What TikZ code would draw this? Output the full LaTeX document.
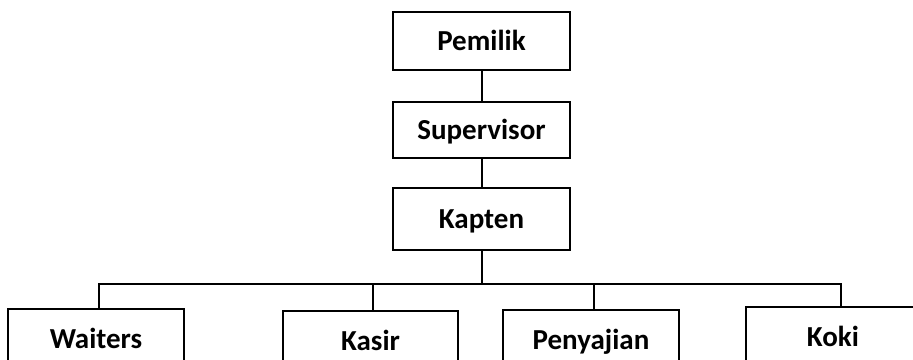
\documentclass[tikz,border=0pt]{standalone}
\usepackage{fontspec}
\setmainfont{Carlito}
\begin{document}
\begin{tikzpicture}[x=1pt,y=-1pt,
  box/.style={draw=black,line width=2pt,fill=white,font=\fontsize{29}{31}\selectfont\bfseries,
    text height=18.5pt,text depth=0pt,inner sep=0pt,anchor=center},
  conn/.style={draw=black,line width=2pt}]
\useasboundingbox (0,0) rectangle (913,359);
\clip (0,0) rectangle (913,359);
\node[box,minimum width=177pt,minimum height=58pt] (pemilik) at (481.5,41) {Pemilik};
\node[box,minimum width=177pt,minimum height=56pt] (supervisor) at (481.5,130) {Supervisor};
\node[box,minimum width=177pt,minimum height=62pt] (kapten) at (481.5,219) {Kapten};
\node[box,minimum width=176pt,minimum height=60pt] (waiters) at (96,339) {Waiters};
\node[box,minimum width=175pt,minimum height=60pt] (kasir) at (370.5,341) {Kasir};
\node[box,minimum width=176pt,minimum height=60pt] (penyajian) at (591,340) {Penyajian};
\node[box,minimum width=174pt,minimum height=60pt] (koki) at (833,337) {Koki};
\coordinate (bus) at (481.5,284);
\coordinate (jw) at (99,284);
\coordinate (js) at (373,284);
\coordinate (jp) at (594,284);
\coordinate (jk) at (841,284);
\draw[conn] (pemilik.south) -- (supervisor.north);
\draw[conn] (supervisor.south) -- (kapten.north);
\draw[conn] (kapten.south) -- (bus);
\draw[conn] (waiters.north -| jw) -- (jw) -- (jk) -- (koki.north -| jk);
\draw[conn] (kasir.north -| js) -- (js);
\draw[conn] (penyajian.north -| jp) -- (jp);
\end{tikzpicture}
\end{document}
